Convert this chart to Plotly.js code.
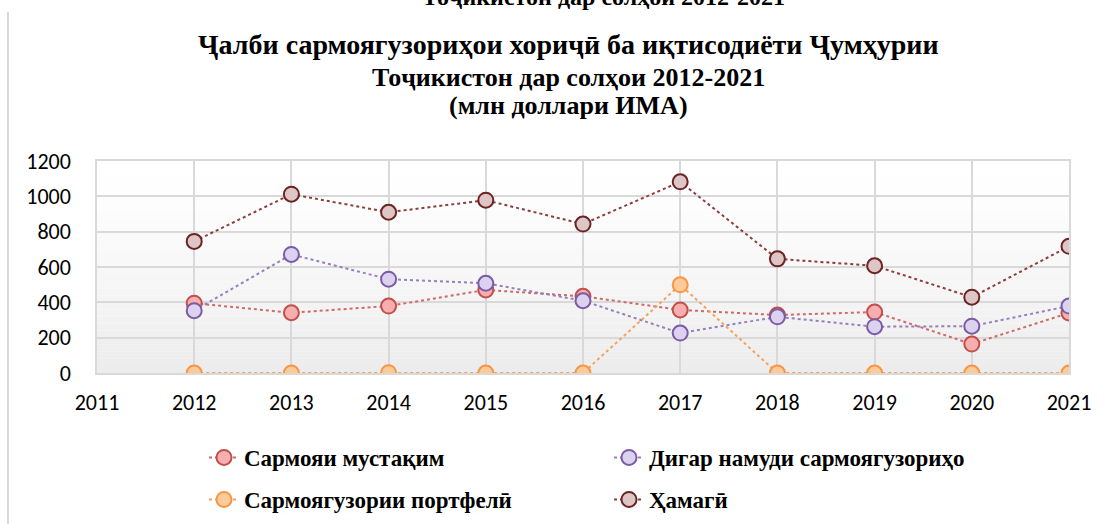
<!DOCTYPE html>
<html>
<head>
<meta charset="utf-8">
<script src="https://cdn.plot.ly/plotly-3.0.1.min.js"></script>
<style>
html,body{margin:0;padding:0;background:#fff;}
#chart{width:1110px;height:524px;}
</style>
</head>
<body>
<div id="chart"></div>
<script>
const years = [2012, 2013, 2014, 2015, 2016, 2017, 2018, 2019, 2020, 2021];
const directInv = [395, 341, 379, 470, 434, 357, 328, 345, 164, 340];
const otherInv = [353, 671, 531, 508, 409, 226, 318, 262, 265, 379];
const portfolioInv = [0, 0, 2, 0, 0, 499, 0, 0, 0, 0];
const totalInv = [745, 1012, 910, 978, 843, 1082, 646, 607, 429, 717];
const names = ["Сармояи мустақим", "Дигар намуди сармоягузориҳо", "Сармоягузории портфелӣ", "Ҳамагӣ"];
const titleLines = ["Ҷалби сармоягузориҳои хориҷӣ ба иқтисодиёти Ҷумҳурии", "Тоҷикистон дар солҳои 2012-2021", "(млн доллари ИМА)"];
const cutTitle = "Тоҷикистон дар солҳои 2012-2021";
const xTicks = [2011, 2012, 2013, 2014, 2015, 2016, 2017, 2018, 2019, 2020, 2021];
const yTicks = [0, 200, 400, 600, 800, 1000, 1200];

function tr(y, name, lineColor, fill, border, legend) {
  return {
    x: years, y: y, name: name, type: 'scatter', mode: 'lines+markers',
    line: {color: lineColor, width: 2, dash: 'dot'},
    marker: {size: 15, color: fill, line: {color: border, width: 2}},
    legend: legend, hoverinfo: 'x+y+name'
  };
}

const data = [
  tr(directInv, names[0], '#CF6A68', '#F6AFAE', '#C0504D', 'legend'),
  tr(otherInv, names[1], '#9580BC', '#DCD2F0', '#7A5BA6', 'legend'),
  tr(portfolioInv, names[2], '#F7A05A', '#FDCA98', '#F79646', 'legend2'),
  tr(totalInv, names[3], '#8E3C3C', '#DFC6C6', '#6A2422', 'legend2')
];

// plot-area background gradient (white at top to light grey at bottom)
const shapes = [];
const bands = 30;
for (let i = 0; i < bands; i++) {
  const t = i / (bands - 1);
  const v = Math.round(255 - 19 * Math.pow(1 - t, 1.3));
  shapes.push({type: 'rect', xref: 'x domain', yref: 'y domain', layer: 'below',
    x0: 0, x1: 1, y0: i / bands, y1: (i + 1) / bands,
    fillcolor: `rgb(${v},${v},${v})`, line: {width: 0}});
}
// outer frame line on the left
shapes.push({type: 'line', xref: 'paper', yref: 'paper', x0: -0.0916, x1: -0.0916,
  y0: 1.703, y1: -0.75, line: {color: '#D9D9D9', width: 2}});

const serif = 'Liberation Serif, Times New Roman, serif';
const sans = 'Carlito, Calibri, Lato, Liberation Sans, sans-serif';

// pixel -> paper helpers for decorative text placement
const PT = 161, PB = 373, PL = 97, PW = 972, PH = PB - PT;
const py = p => (PB - p) / PH;
const px = p => (p - PL) / PW;

const titleY = [45, 77, 106];
const titleSize = [28, 26, 26];
const annotations = titleLines.map((t, i) => ({
  text: '<b>' + t + '</b>', xref: 'paper', yref: 'paper',
  x: px(568), y: py(titleY[i]), xanchor: 'center', yanchor: 'middle',
  showarrow: false, font: {family: serif, size: titleSize[i], color: '#000'}
}));
annotations.push({
  text: '<b>' + cutTitle + '</b>', xref: 'paper', yref: 'paper',
  x: px(603), y: py(-3), xanchor: 'center', yanchor: 'middle',
  showarrow: false, font: {family: serif, size: 24, color: '#000'}
});

const legendCommon = {
  orientation: 'h', xanchor: 'left', yanchor: 'top',
  entrywidth: 360, entrywidthmode: 'pixels',
  font: {family: serif, size: 23, color: '#000', weight: 'bold'},
  bgcolor: 'rgba(0,0,0,0)', traceorder: 'normal'
};

const layout = {
  width: 1110, height: 524,
  margin: {l: 97, r: 41, t: 161, b: 151, autoexpand: false},
  paper_bgcolor: '#ffffff',
  plot_bgcolor: 'rgba(0,0,0,0)',
  showlegend: true,
  annotations: annotations,
  xaxis: {
    range: [2011, 2021], tickvals: xTicks, ticktext: xTicks.map(String),
    showgrid: true, gridcolor: '#D9D9D9', gridwidth: 1.5,
    showline: true, linecolor: '#D9D9D9', linewidth: 1.5, mirror: true,
    zeroline: false, ticks: '', ticklabelstandoff: 9,
    tickfont: {family: sans, size: 22, color: '#000'}
  },
  yaxis: {
    range: [0, 1200], tickvals: yTicks, ticktext: yTicks.map(String),
    showgrid: true, gridcolor: '#D9D9D9', gridwidth: 1.5,
    showline: true, linecolor: '#D9D9D9', linewidth: 1.5, mirror: true,
    zeroline: false, ticks: '', ticklabelstandoff: 20,
    tickfont: {family: sans, size: 22, color: '#000'}
  },
  legend: Object.assign({}, legendCommon, {x: px(204), y: py(436)}),
  legend2: Object.assign({}, legendCommon, {x: px(204), y: py(478)}),
  shapes: shapes,
  hovermode: 'closest'
};

Plotly.newPlot('chart', data, layout, {displayModeBar: false});
</script>
</body>
</html>
